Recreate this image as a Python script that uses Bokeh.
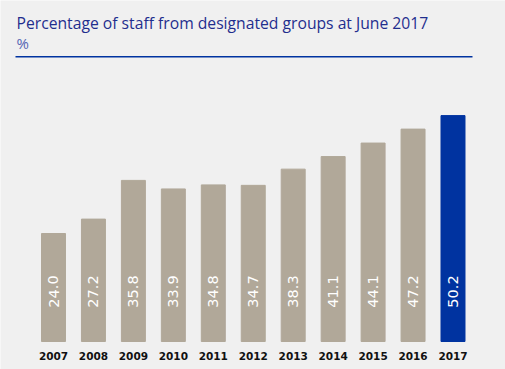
from bokeh.plotting import figure
from bokeh.models import Range1d, ColumnDataSource, Label, BoxAnnotation
from bokeh.core.properties import value
from bokeh.embed import file_html
from bokeh.resources import INLINE

years = ["2007", "2008", "2009", "2010", "2011", "2012", "2013", "2014", "2015", "2016", "2017"]
values = [24.0, 27.2, 35.8, 33.9, 34.8, 34.7, 38.3, 41.1, 44.1, 47.2, 50.2]
title_text = "Percentage of staff from designated groups at June 2017"
unit_text = "%"

GREY = "#b1a899"
BLUE = "#0033a0"
BG = "#f0f0f0"

W, H = 505, 369
xs = [int(y) for y in years]
colors = [GREY] * (len(years) - 1) + [BLUE]
labels = ["%.1f" % v for v in values]
src = ColumnDataSource(dict(x=xs, top=values, color=colors, label=labels, year=years, zero=[0] * len(xs)))

px_x = 39.95
x0 = 2007 - 53 / px_x
px_y = 4.5
y0 = -28 / px_y

p = figure(width=W, height=H, output_backend="svg", toolbar_location=None,
           x_range=Range1d(x0, x0 + W / px_x), y_range=Range1d(y0, y0 + H / px_y),
           min_border=0, background_fill_color=BG, border_fill_color=BG)
p.axis.visible = False
p.grid.visible = False
p.outline_line_color = None

p.vbar(x="x", top="top", bottom=0, width=0.6, color="color", source=src)

p.text(x="x", y="zero", text="label", angle=1.5708, source=src,
       text_align="center", text_baseline="middle", y_offset=-50,
       text_color="white", text_font=value("DejaVu Sans"), text_font_size="14.5px")

p.text(x="x", y="zero", text="year", source=src,
       text_align="center", text_baseline="middle", y_offset=14,
       text_color="#111111", text_font=value("DejaVu Sans"), text_font_size="10.5px",
       text_font_style="bold")

p.add_layout(Label(x=16, y=H - 22.5, x_units="screen", y_units="screen", text=title_text,
                   text_font="Open Sans", text_font_size="15.7px", text_color="#1f2e8e",
                   text_baseline="alphabetic"))
p.add_layout(Label(x=16, y=H - 42.5, x_units="screen", y_units="screen", text=unit_text,
                   text_font="Open Sans", text_font_size="15px", text_color="#5566b4",
                   text_baseline="alphabetic"))
p.add_layout(BoxAnnotation(left=15, right=472, bottom=H - 57, top=H - 55.5,
                           left_units="screen", right_units="screen",
                           bottom_units="screen", top_units="screen",
                           fill_color=BLUE, fill_alpha=1, line_color=None))

open("out.html", "w").write(file_html(p, INLINE))
